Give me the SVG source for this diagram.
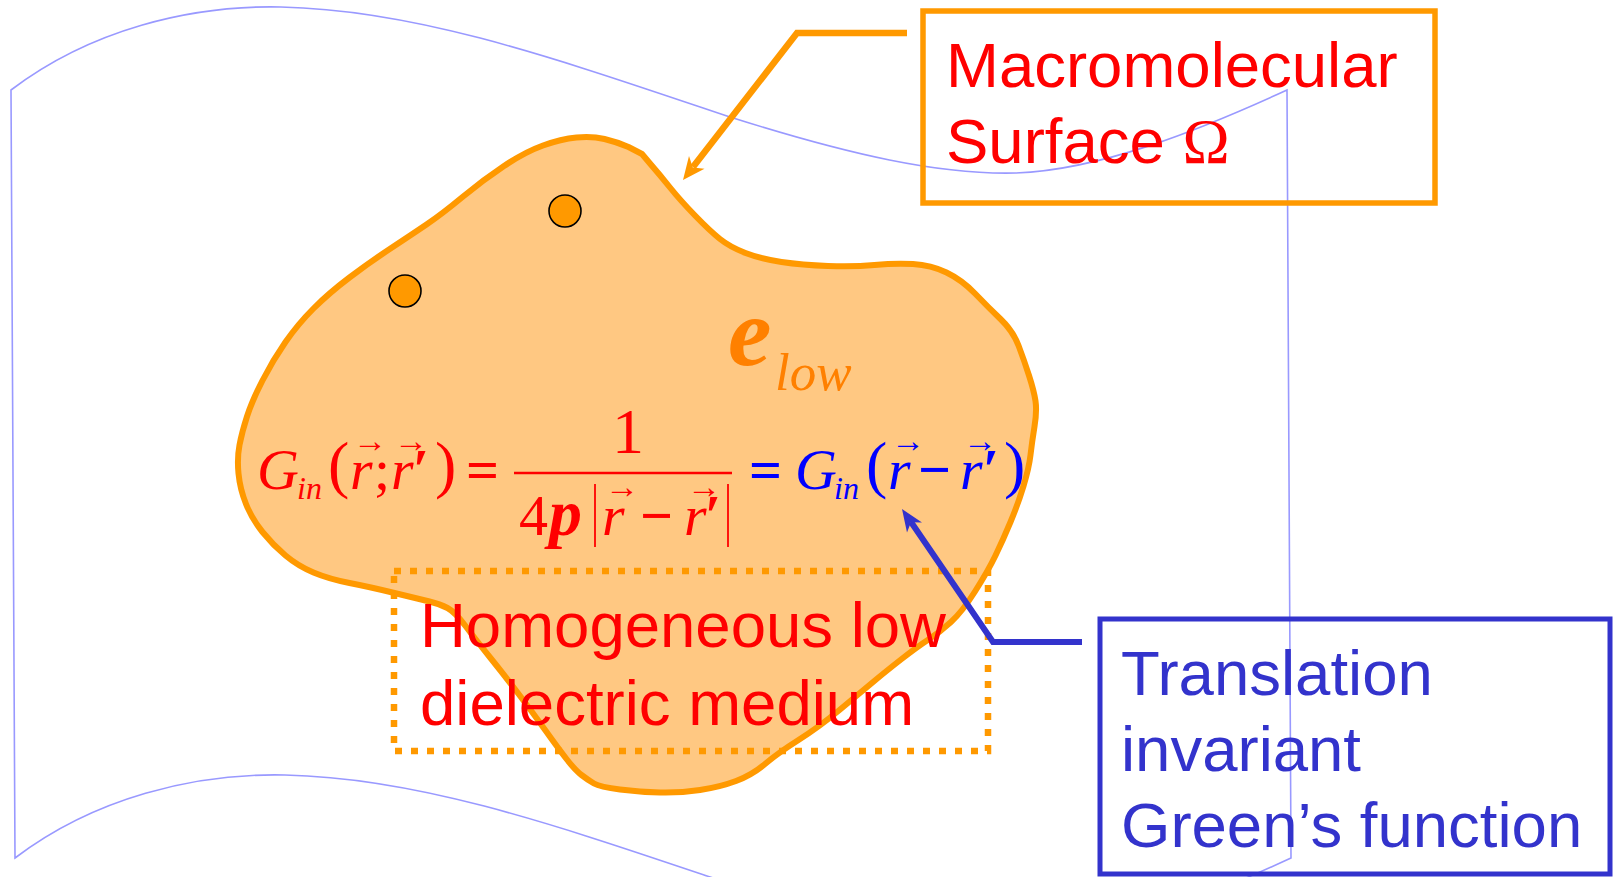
<svg xmlns="http://www.w3.org/2000/svg" width="1613" height="877" viewBox="0 0 1613 877">
<style>
.sheet{fill:none;stroke:#9999FF;stroke-width:1.6}
.blob{fill:#FFC882;stroke:#FF9900;stroke-width:6;stroke-linejoin:round}
.dot{fill:#FF9900;stroke:#000;stroke-width:1.6}
.lbl{font-family:"Liberation Sans",Arial,sans-serif;font-size:63.5px}
.red{fill:#FF0000}
.ind{fill:#3333CC}
.eq{font-family:"Liberation Serif","Times New Roman",serif;font-size:58px}
.it{font-style:italic}
.b{font-weight:bold}
.sub{font-style:italic;font-size:32px}
.par{font-size:64px}
.arr{font-size:34px;font-style:normal}
</style>
<g id="sheet">
<path class="sheet" d="M 11 90 C 90 30, 190 5, 281 7 C 420 10, 560 60, 730 117 C 850 155, 940 175, 1016 173 C 1100 170, 1200 130, 1287 90 L 1291 858 C 1204 898, 1104 938, 1020 941 C 944 943, 854 923, 734 885 C 564 828, 424 778, 285 775 C 194 773, 94 798, 15 858 Z"/>
</g>
<g id="blob">
<path class="blob" d="M 576.5 137.5 Q 592 136 604.5 139 Q 617 142 628.5 147 L 642 154 L 650 163.5 Q 660 175 670 187.5 Q 680 200 695 215.5 Q 710 231 720 239 Q 730 247 745.5 253 Q 761 259 781.5 262 Q 802 265 828 266 Q 854 267 874.5 265 Q 895 263 913 264 Q 931 265 946.5 272.5 Q 962 280 975 293.5 Q 988 307 1000.5 319 Q 1013 331 1018.5 345.5 Q 1024 360 1029 375.5 Q 1034 391 1035.5 401 Q 1037 411 1034.5 426.5 Q 1032 442 1030.5 455 Q 1029 468 1023.5 486 Q 1018 504 1010.5 522 Q 1003 540 995.5 555.5 Q 988 571 975 591.5 Q 962 612 951 622 Q 940 632 928.5 639.5 Q 917 647 901 659.5 Q 885 672 872.5 682.5 Q 860 693 839.5 710 Q 819 727 798.5 740 Q 778 753 765 764 Q 752 775 736 781 Q 720 787 700 790 Q 680 793 660 792.5 Q 640 792 620 789.5 Q 600 787 594 783.5 Q 588 780 581.5 775 Q 575 770 566.5 759 Q 558 748 545.5 730.5 Q 533 713 519 694.5 Q 505 676 490.5 658 Q 476 640 465.5 626 Q 455 612 447.5 608 Q 440 604 429.5 601.5 Q 419 599 394.5 593 Q 370 587 349.5 583 Q 329 579 313.5 572.5 Q 298 566 285.5 555.5 Q 273 545 262.5 532 Q 252 519 246 504 Q 240 489 238.5 473.5 Q 237 458 239.5 445 Q 242 432 247 416.5 Q 252 401 262.5 380.5 Q 273 360 285.5 342 Q 298 324 313.5 308.5 Q 329 293 349.5 277.5 Q 370 262 390.5 248.5 Q 411 235 426.5 224.5 Q 442 214 462.5 197 Q 483 180 504 166 Q 525 152 543 145.5 Q 561 139 576.5 137.5 Z"/>
</g>
<g id="charges">
<circle class="dot" cx="565" cy="211" r="16"/>
<circle class="dot" cx="405" cy="291" r="16"/>
</g>
<g id="epsilon">
<text font-family="Liberation Serif, serif" font-style="italic" fill="#FF8000"><tspan x="728" y="365" font-weight="bold" font-size="98">e</tspan><tspan x="775" y="390" font-size="53">low</tspan></text>
</g>
<g id="equation">
<text class="eq" fill="#FF0000"><tspan class="it" x="257" y="489">G</tspan><tspan class="sub" x="297" y="499">in</tspan><tspan class="par" x="328" y="486">(</tspan><tspan class="it" x="350" y="489">r</tspan><tspan class="arr" x="353" y="452">→</tspan><tspan x="374" y="489">;</tspan><tspan class="it" x="391" y="489">r</tspan><tspan class="arr" x="394" y="452">→</tspan><tspan class="b" x="413" y="489">′</tspan><tspan class="par" x="435" y="486">)</tspan><tspan class="b" x="466" y="489">=</tspan></text>
<text class="eq" fill="#FF0000"><tspan class="par" x="612" y="453">1</tspan></text>
<line x1="514" y1="473" x2="732" y2="473" stroke="#FF0000" stroke-width="2.5"/>
<text class="eq" fill="#FF0000"><tspan x="519" y="535">4</tspan><tspan class="it b" x="549" y="535" font-size="66">p</tspan><tspan class="it" x="602" y="535">r</tspan><tspan class="arr" x="605" y="498">→</tspan><tspan class="b" x="640" y="535">−</tspan><tspan class="it" x="684" y="535">r</tspan><tspan class="arr" x="687" y="498">→</tspan><tspan class="b" x="705" y="535">′</tspan></text>
<line x1="595" y1="484" x2="595" y2="547" stroke="#FF0000" stroke-width="1.8"/>
<line x1="728" y1="484" x2="728" y2="547" stroke="#FF0000" stroke-width="1.8"/>
<text class="eq" fill="#0000FF"><tspan class="b" x="749" y="489">=</tspan><tspan class="it" x="795" y="489">G</tspan><tspan class="sub" x="834" y="499">in</tspan><tspan class="par" x="866" y="486">(</tspan><tspan class="it" x="888" y="489">r</tspan><tspan class="arr" x="891" y="452">→</tspan><tspan class="b" x="918" y="489">−</tspan><tspan class="it" x="960" y="489">r</tspan><tspan class="arr" x="963" y="452">→</tspan><tspan class="b" x="983" y="489">′</tspan><tspan class="par" x="1004" y="486">)</tspan></text>
</g>
<g id="medium">
<rect x="394" y="571" width="594" height="180" fill="none" stroke="#FF9900" stroke-width="6.5" stroke-dasharray="7 9"/>
<text class="lbl red"><tspan x="420" y="647">Homogeneous low</tspan><tspan x="420" y="725">dielectric medium</tspan></text>
</g>
<g id="surface-label">
<rect x="923" y="11" width="512" height="192" fill="none" stroke="#FF9900" stroke-width="5.5"/>
<text class="lbl red"><tspan x="946" y="87">Macromolecular</tspan><tspan x="946" y="163">Surface </tspan><tspan font-family="Liberation Serif, serif">Ω</tspan></text>
</g>
<g id="green-label">
<rect x="1100" y="619" width="510" height="255" fill="none" stroke="#3333CC" stroke-width="5"/>
<text class="lbl ind"><tspan x="1121" y="695">Translation</tspan><tspan x="1121" y="771">invariant</tspan><tspan x="1121" y="847">Green’s function</tspan></text>
</g>
<g id="connectors">
<path style="fill:none;stroke:#FF9900;stroke-width:6.5;stroke-linejoin:miter" d="M 907 33 L 797 33 L 693 167"/>
<path style="fill:#FF9900;stroke:none" d="M 683 180 L 689 156 L 692.8 167.4 L 704.5 168.8 Z"/>
<path style="fill:none;stroke:#3333CC;stroke-width:6;stroke-linejoin:miter" d="M 1082 642 L 993 642 L 911 522"/>
<path style="fill:#3333CC;stroke:none" d="M 902 509 L 922 522.5 L 911 522.2 L 907 532.5 Z"/>
</g>
</svg>
